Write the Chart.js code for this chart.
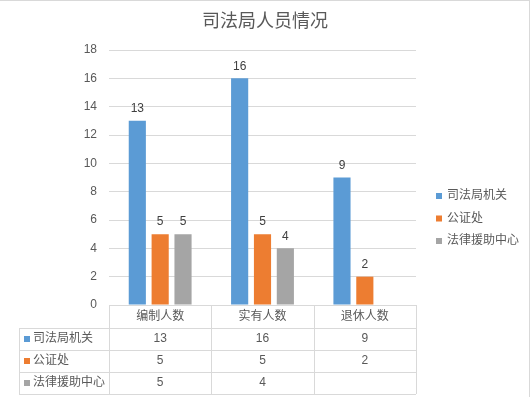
<!DOCTYPE html>
<html>
<head>
<meta charset="utf-8">
<script src="https://cdn.jsdelivr.net/npm/chart.js@4"></script>
<style>
  html, body { margin: 0; padding: 0; background: #fff; }
  canvas { display: block; }
</style>
</head>
<body>
<canvas id="chart" width="532" height="397"></canvas>
<script>
// data
const chartTitle = '司法局人员情况';
const categories = ['编制人数', '实有人数', '退休人数'];
const seriesNames = ['司法局机关', '公证处', '法律援助中心'];
const bureauValues = [13, 16, 9];
const notaryValues = [5, 5, 2];
const legalAidValues = [5, 4, null];
const yTicks = { min: 0, max: 18, step: 2 };

const colors = ['#5B9BD5', '#ED7D31', '#A5A5A5'];
const textColor = '#595959';
const lineColor = '#D9D9D9';
const fontFamily = '"Liberation Sans", "Noto Sans CJK SC", sans-serif';

Chart.defaults.font.family = fontFamily;
Chart.defaults.color = textColor;

// value labels above each bar
const barLabels = {
  id: 'barLabels',
  afterDatasetsDraw(chart) {
    const ctx = chart.ctx;
    ctx.save();
    ctx.font = '12px ' + fontFamily;
    ctx.fillStyle = '#404040';
    ctx.textAlign = 'center';
    ctx.textBaseline = 'middle';
    chart.data.datasets.forEach((ds, di) => {
      chart.getDatasetMeta(di).data.forEach((bar, i) => {
        if (ds.data[i] == null) return;
        ctx.fillText(String(ds.data[i]), bar.x, bar.y - 12);
      });
    });
    ctx.restore();
  }
};

// title, data table under the plot, legend at right, frame lines
const dataTable = {
  id: 'dataTable',
  afterDraw(chart) {
    const ctx = chart.ctx;
    const x = chart.scales.x;
    const area = chart.chartArea;
    const half = (x.getPixelForValue(1) - x.getPixelForValue(0)) / 2;
    const edges = [x.getPixelForValue(0) - half];
    categories.forEach((c, i) => edges.push(x.getPixelForValue(i) + half));
    const tableLeft = 19;
    const headerH = 23, rowH = 22;
    const rows = [area.bottom, area.bottom + headerH];
    seriesNames.forEach((s, i) => rows.push(rows[i + 1] + rowH));
    const right = edges[edges.length - 1];
    const bottom = rows[rows.length - 1];

    ctx.save();
    // title
    ctx.font = '18px ' + fontFamily;
    ctx.fillStyle = textColor;
    ctx.textAlign = 'center';
    ctx.textBaseline = 'middle';
    ctx.fillText(chartTitle, 265, 22);

    ctx.strokeStyle = lineColor;
    ctx.lineWidth = 1;
    ctx.beginPath();
    ctx.moveTo(edges[0], rows[0] + 0.5);
    ctx.lineTo(right, rows[0] + 0.5);
    for (let r = 1; r < rows.length; r++) {
      ctx.moveTo(tableLeft, Math.round(rows[r]) + 0.5);
      ctx.lineTo(right, Math.round(rows[r]) + 0.5);
    }
    ctx.moveTo(tableLeft + 0.5, rows[1]);
    ctx.lineTo(tableLeft + 0.5, bottom);
    edges.forEach(e => {
      ctx.moveTo(Math.round(e) + 0.5, rows[0]);
      ctx.lineTo(Math.round(e) + 0.5, bottom);
    });
    ctx.stroke();

    ctx.font = '12px ' + fontFamily;
    ctx.fillStyle = textColor;
    categories.forEach((c, i) => {
      ctx.fillText(c, x.getPixelForValue(i), (rows[0] + rows[1]) / 2);
    });
    chart.data.datasets.forEach((ds, di) => {
      const cy = (rows[di + 1] + rows[di + 2]) / 2;
      ctx.fillStyle = ds.backgroundColor;
      ctx.fillRect(tableLeft + 5, cy - 3, 6, 6);
      ctx.fillStyle = textColor;
      ctx.textAlign = 'left';
      ctx.fillText(ds.label, tableLeft + 14, cy);
      ctx.textAlign = 'center';
      ds.data.forEach((v, i) => {
        if (v == null) return;
        ctx.fillText(String(v), x.getPixelForValue(i), cy);
      });
    });

    // legend
    ctx.textAlign = 'left';
    chart.data.datasets.forEach((ds, di) => {
      const cy = 196 + di * 22.5;
      ctx.fillStyle = ds.backgroundColor;
      ctx.fillRect(436, cy - 3, 6, 6);
      ctx.fillStyle = textColor;
      ctx.fillText(ds.label, 447, cy);
    });

    // outer frame
    ctx.strokeStyle = lineColor;
    ctx.beginPath();
    ctx.moveTo(0, 0.5);
    ctx.lineTo(530, 0.5);
    ctx.moveTo(529.5, 0);
    ctx.lineTo(529.5, 397);
    ctx.stroke();
    ctx.restore();
  }
};

new Chart(document.getElementById('chart'), {
  type: 'bar',
  data: {
    labels: categories,
    datasets: [
      { label: seriesNames[0], data: bureauValues, backgroundColor: colors[0] },
      { label: seriesNames[1], data: notaryValues, backgroundColor: colors[1] },
      { label: seriesNames[2], data: legalAidValues, backgroundColor: colors[2] }
    ]
  },
  options: {
    responsive: false,
    animation: false,
    devicePixelRatio: 1,
    layout: {
      padding: { left: 0, right: 116, bottom: 92, top: 50 }
    },
    datasets: {
      bar: {
        categoryPercentage: 0.67,
        barPercentage: 0.75
      }
    },
    scales: {
      x: {
        display: false
      },
      y: {
        min: yTicks.min,
        max: yTicks.max,
        afterFit: (scale) => { scale.width = 109; },
        ticks: {
          stepSize: yTicks.step,
          padding: 12,
          color: textColor,
          font: { size: 12 }
        },
        grid: {
          color: lineColor,
          drawTicks: false
        },
        border: {
          display: false
        }
      }
    },
    plugins: {
      legend: { display: false },
      tooltip: { enabled: false },
      title: { display: false }
    }
  },
  plugins: [barLabels, dataTable]
});
</script>
</body>
</html>
